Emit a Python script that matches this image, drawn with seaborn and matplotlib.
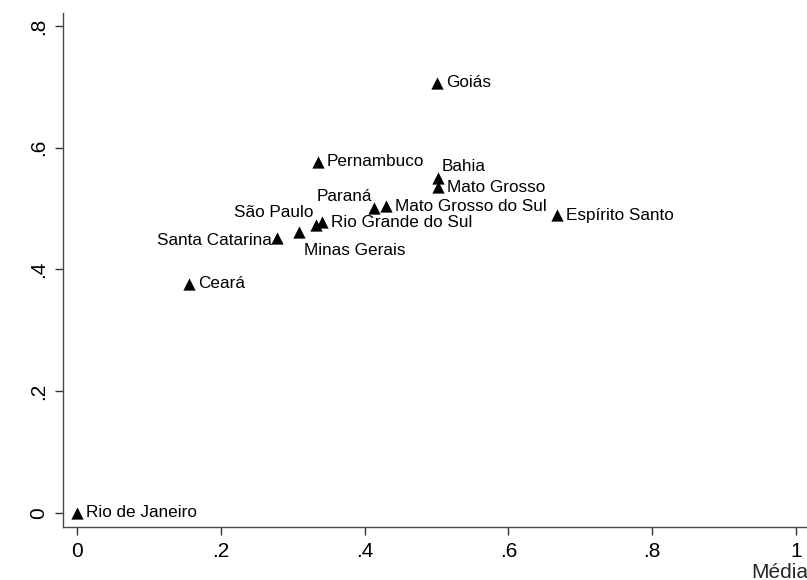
import matplotlib
matplotlib.use("Agg")
import matplotlib.pyplot as plt
import seaborn as sns
import pandas as pd

# ---- data ----
states = ["Rio de Janeiro", "Ceará", "Santa Catarina", "Minas Gerais", "São Paulo",
          "Rio Grande do Sul", "Pernambuco", "Paraná", "Mato Grosso do Sul",
          "Bahia", "Mato Grosso", "Goiás", "Espírito Santo"]
media = [0.0, 0.155, 0.278, 0.308, 0.332, 0.340, 0.335, 0.413, 0.430,
         0.502, 0.502, 0.501, 0.668]
yvals = [0.0, 0.376, 0.451, 0.462, 0.473, 0.477, 0.577, 0.500, 0.504,
         0.550, 0.535, 0.707, 0.489]
# Stata-like label clock positions
label_pos = [3, 3, 9, 5, 11, 3, 3, 11, 3, 1, 3, 3, 3]

x_ticks = [0, 0.2, 0.4, 0.6, 0.8, 1.0]
x_ticklabels = ["0", ".2", ".4", ".6", ".8", "1"]
y_ticks = [0, 0.2, 0.4, 0.6, 0.8]
y_ticklabels = ["0", ".2", ".4", ".6", ".8"]
x_title = "Média"

df = pd.DataFrame({"state": states, "media": media, "y": yvals, "pos": label_pos})

sns.set_style("white")
plt.rcParams["font.family"] = ["Liberation Sans", "DejaVu Sans"]

W, H = 807, 580
fig = plt.figure(figsize=(W / 100, H / 100), dpi=100)
ax = fig.add_axes([63.5 / W, 1 - 526.7 / H, 1 - 63.5 / W, (526.7 - 13) / H])

sns.scatterplot(data=df, x="media", y="y", marker="^", color="black", s=78,
                linewidth=0, ax=ax, clip_on=False, zorder=3)

offsets = {
    3: ((9, 0), "left", "center"),
    1: ((4, 12), "left", "center"),
    11: ((-2, 12), "right", "center"),
    9: ((-5, -2), "right", "center"),
    5: ((5, -19), "left", "center"),
}
for _, r in df.iterrows():
    (dx, dy), ha, va = offsets[r["pos"]]
    ax.annotate(r["state"], (r["media"], r["y"]), xytext=(dx, dy),
                textcoords="offset pixels", ha=ha, va=va, fontsize=12.3,
                color="black")

ax.set_xlim(-0.0192, 1.0156)
ax.set_ylim(-0.023, 0.8213)
ax.set_xticks(x_ticks)
ax.set_xticklabels(x_ticklabels, fontsize=15)
ax.set_yticks(y_ticks)
ax.set_yticklabels(y_ticklabels, fontsize=15, rotation=90, va="center")
ax.set_xlabel("")
ax.set_ylabel("")

for side in ["top", "right"]:
    ax.spines[side].set_visible(False)
for side in ["left", "bottom"]:
    ax.spines[side].set_color("#4a4a4a")
    ax.spines[side].set_linewidth(1.0)

ax.tick_params(axis="both", which="major", direction="out", length=6,
               width=1.0, color="#333333", labelcolor="black",
               bottom=True, left=True)
ax.tick_params(axis="x", pad=5)
ax.tick_params(axis="y", pad=5)
ax.grid(False)

fig.text(751 / W, 1 - 572 / H, x_title, ha="left", va="center", fontsize=15)

fig.savefig("out.png", dpi=100, facecolor="white")
